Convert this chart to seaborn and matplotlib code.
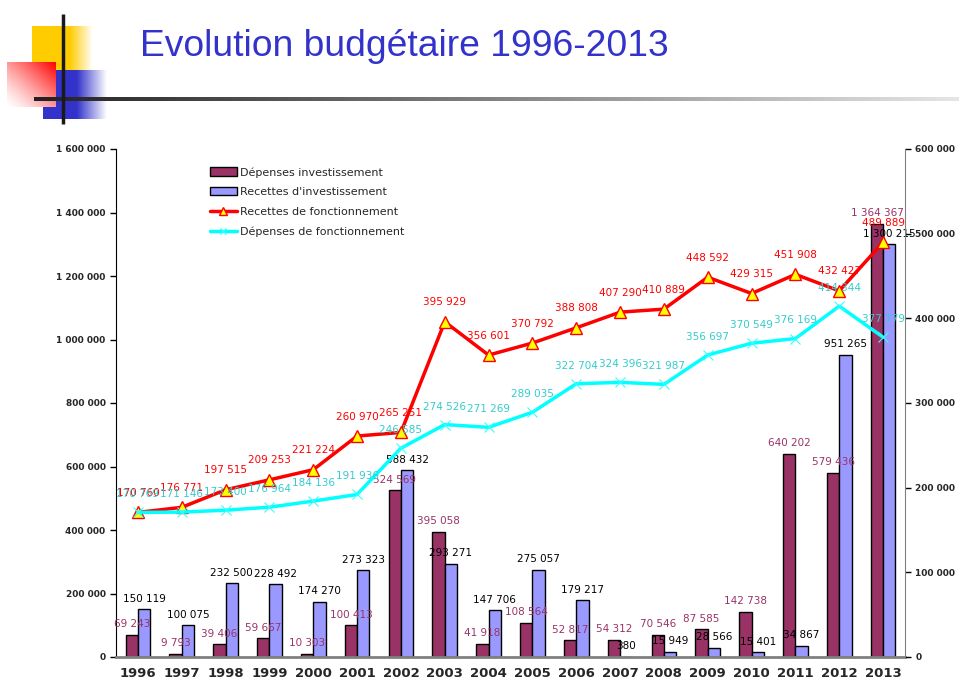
import numpy as np
import pandas as pd
import matplotlib
matplotlib.use("Agg")
import matplotlib.pyplot as plt
from matplotlib.patches import Patch
from matplotlib.lines import Line2D
from matplotlib.ticker import FixedLocator, FuncFormatter
import seaborn as sns

# ==========================================
# Data
# ==========================================
annees = ["1996", "1997", "1998", "1999", "2000", "2001", "2002", "2003", "2004",
          "2005", "2006", "2007", "2008", "2009", "2010", "2011", "2012", "2013"]

dep_invest = [69243, 9793, 39406, 59667, 10303, 100413, 524569, 395058, 41918,
              108564, 52817, 54312, 70546, 87585, 142738, 640202, 579436, 1364367]
rec_invest = [150119, 100075, 232500, 228492, 174270, 273323, 588432, 293271, 147706,
              275057, 179217, 380, 15949, 28566, 15401, 34867, 951265, 1300215]
rec_fonct = [170760, 176771, 197515, 209253, 221224, 260970, 265251, 395929, 356601,
             370792, 388808, 407290, 410889, 448592, 429315, 451908, 432427, 489889]
dep_fonct = [170769, 171146, 173400, 176964, 184136, 191936, 246585, 274526, 271269,
             289035, 322704, 324396, 321987, 356697, 370549, 376169, 414344, 377779]

series_barres = ["Dépenses investissement", "Recettes d'investissement"]
series_lignes = ["Recettes de fonctionnement", "Dépenses de fonctionnement"]

MAROON = "#993366"
LAVENDER = "#9999FF"
RED = "#FF0000"
CYAN = "#00FFFF"


def fmt(v):
    return f"{int(v):,}".replace(",", " ")


df_bars = pd.DataFrame({
    "annee": annees * 2,
    "valeur": dep_invest + rec_invest,
    "serie": [series_barres[0]] * len(annees) + [series_barres[1]] * len(annees),
})
pos = np.arange(len(annees))

# ==========================================
# Figure
# ==========================================
sns.set_style("white")
plt.rcParams["font.family"] = ["DejaVu Sans"]

fig = plt.figure(figsize=(9.59, 6.84), dpi=100)

# header decoration
deco = fig.add_axes([0, 0, 1, 1], zorder=-1)
deco.set_xlim(0, 959)
deco.set_ylim(684, 0)
deco.axis("off")

nx = 200
xs = np.linspace(0, 1, nx)
yel = np.zeros((1, nx, 4))
yel[..., 0], yel[..., 1], yel[..., 2] = 1.0, 0.8, 0.0
yel[0, :, 3] = np.clip((93 - (32 + xs * 61)) / 23, 0, 1)
deco.imshow(yel, extent=[32, 93, 70, 26], aspect="auto", interpolation="bilinear")

blu = np.zeros((1, nx, 4))
blu[..., 0], blu[..., 1], blu[..., 2] = 0.2, 0.2, 0.8
blu[0, :, 3] = np.clip((107 - (43 + xs * 64)) / 30, 0, 1)
deco.imshow(blu, extent=[43, 107, 119, 70], aspect="auto", interpolation="bilinear")

uu, vv = np.meshgrid(np.linspace(0, 1, 60), np.linspace(1, 0, 60))
a = np.clip((uu + vv) / 2, 0, 1) ** 1.3
red = np.ones((60, 60, 3))
red[..., 1] = 1 - a
red[..., 2] = 1 - a
deco.imshow(red, extent=[7, 56, 107, 62], aspect="auto", interpolation="bilinear")

g = np.linspace(0.13, 0.9, 300)
bar_img = np.stack([g, g, g], axis=-1)[None, :, :]
deco.imshow(bar_img, extent=[34, 959, 101, 97], aspect="auto", interpolation="bilinear")
deco.plot([63, 63], [14, 124], color="#1a1a1a", lw=2.5, solid_capstyle="butt")

deco.text(140, 46, "Evolution budgétaire 1996-2013", color="#3333CC",
          fontsize=26.8, family="Liberation Sans", va="center", ha="left")

# main axes
ax = fig.add_axes([116 / 959, 1 - 657 / 684, 789 / 959, 508 / 684])
sns.barplot(data=df_bars, x="annee", y="valeur", hue="serie",
            palette=[MAROON, LAVENDER], width=0.56, edgecolor="black",
            linewidth=1, saturation=1, legend=False, ax=ax)

for cont, vals, col in zip(ax.containers, [dep_invest, rec_invest], [MAROON, "black"]):
    ax.bar_label(cont, labels=[fmt(v) for v in vals], padding=4, color=col, fontsize=7.5)

ax.set_xlim(-0.5, len(annees) - 0.5)
ax.set_ylim(0, 1600000)
ax.yaxis.set_major_locator(FixedLocator(np.arange(0, 1600001, 200000)))
ax.yaxis.set_major_formatter(FuncFormatter(lambda v, p: fmt(v)))
ax.set_xlabel("")
ax.set_ylabel("")
ax.set_xticks(pos)
ax.set_xticklabels(annees, fontsize=9.5, fontweight="bold")
ax.set_xticks(np.arange(-0.5, len(annees), 1), minor=True)
ax.tick_params(axis="x", which="major", length=0, pad=7)
ax.tick_params(axis="x", which="minor", length=5, width=1.2, color="black")
ax.tick_params(axis="y", length=4, width=1, color="black", labelsize=6.5, direction="out", left=True)
for lab in ax.get_yticklabels():
    lab.set_fontweight("bold")
ax.spines["top"].set_visible(False)
ax.spines["right"].set_visible(False)
ax.spines["left"].set_color("black")
ax.spines["bottom"].set_color("#808080")
ax.spines["bottom"].set_linewidth(2)

# secondary axis for lines
ax2 = ax.twinx()
sns.lineplot(x=pos, y=rec_fonct, ax=ax2, color=RED, lw=2.5, marker="^",
             markersize=8, markerfacecolor="#FFFF00", markeredgecolor=RED,
             markeredgewidth=1)
sns.lineplot(x=pos, y=dep_fonct, ax=ax2, color=CYAN, lw=2.5, marker="x",
             markersize=7, markeredgecolor="#33FFFF", markeredgewidth=0.8)
ax2.set_ylim(0, 600000)
ax2.yaxis.set_major_locator(FixedLocator(np.arange(0, 600001, 100000)))
ax2.yaxis.set_major_formatter(FuncFormatter(lambda v, p: fmt(v)))
ax2.tick_params(axis="y", length=4, width=1, color="black", labelsize=6.5, direction="out", right=True)
for lab in ax2.get_yticklabels():
    lab.set_fontweight("bold")
for s in ["top", "left", "bottom"]:
    ax2.spines[s].set_visible(False)
ax2.spines["right"].set_color("#808080")
ax2.set_ylabel("")

for i, v in enumerate(rec_fonct):
    ax2.annotate(fmt(v), (pos[i], v), xytext=(0, 14), textcoords="offset points",
                 ha="center", va="center", color=RED, fontsize=7.5)
for i, v in enumerate(dep_fonct):
    ax2.annotate(fmt(v), (pos[i], v), xytext=(0, 13), textcoords="offset points",
                 ha="center", va="center", color="#33CCCC", fontsize=7.5)

handles = [
    Patch(facecolor=MAROON, edgecolor="black", label=series_barres[0]),
    Patch(facecolor=LAVENDER, edgecolor="black", label=series_barres[1]),
    Line2D([], [], color=RED, lw=2.5, marker="^", markersize=6,
           markerfacecolor="#FFFF00", markeredgecolor=RED, label=series_lignes[0]),
    Line2D([], [], color=CYAN, lw=2.5, marker="x", markersize=5,
           markeredgecolor="#33FFFF", label=series_lignes[1]),
]
ax2.legend(handles=handles, loc="upper left", bbox_to_anchor=(210 / 959, 1 - 167 / 684),
           bbox_transform=fig.transFigure, frameon=False, fontsize=8,
           handlelength=2.4, handleheight=0.8, handletextpad=0.3,
           labelspacing=0.85, borderpad=0, borderaxespad=0)

plt.savefig("out.png", dpi=100)
